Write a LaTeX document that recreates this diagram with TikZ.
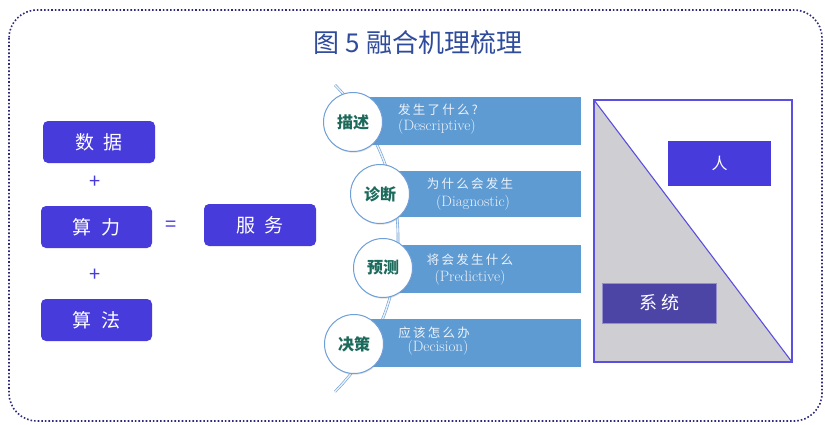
\documentclass[tikz,border=0pt]{standalone}
\usepackage{fontspec}
\newfontfamily\cjk{Noto Sans CJK SC}
\newfontfamily\cjkls[LetterSpace=18]{Noto Sans CJK SC}
\usetikzlibrary{shadows}
\definecolor{frame}{HTML}{2E2B7C}
\definecolor{titleblue}{HTML}{2F4B9C}
\definecolor{boxblue}{HTML}{473BDC}
\definecolor{barblue}{HTML}{5E9BD3}
\definecolor{ringblue}{HTML}{6F9FD8}
\definecolor{teal}{HTML}{1C6A5C}
\definecolor{bartext}{HTML}{EEF3FA}
\definecolor{tri}{HTML}{CFCED3}
\definecolor{sysbox}{HTML}{4C45A6}
\tikzset{
  leftbox/.style={fill=boxblue, rounded corners=5pt, minimum width=111pt, minimum height=42pt, inner sep=0pt, text=white, font=\cjk\fontsize{19}{19}\selectfont},
  opsign/.style={text=boxblue, font=\cjk\fontsize{20}{20}\selectfont, inner sep=0pt},
  bar/.style={fill=barblue, draw=none},
  stage/.style={circle, fill=white, draw=ringblue, line width=1pt, minimum size=59pt, inner sep=0pt, text=teal, font=\cjk\fontsize{16}{16}\selectfont\bfseries, drop shadow={opacity=0.25, shadow xshift=0.6pt, shadow yshift=-1.2pt}},
  cjkline/.style={text=bartext, font=\cjkls\fontsize{12.5}{12.5}\selectfont, inner sep=0pt},
  enline/.style={text=bartext, font=\fontsize{15}{15}\selectfont, inner sep=0pt},
  rolebox/.style={inner sep=0pt, text=white, font=\cjk\fontsize{16}{16}\selectfont}
}
\begin{document}
\begin{tikzpicture}[x=1pt,y=-1pt]
\useasboundingbox (0,0) rectangle (825,424);
% outer frame
\draw[frame, dotted, line width=1.6pt, rounded corners=28pt] (9,10) rectangle (822,421);
% title
\node[text=titleblue, font=\cjk\fontsize{26}{26}\selectfont, inner sep=0pt] (title) at (418,43) {图 5 融合机理梳理};
% left equation
\node[leftbox, minimum width=112pt] (data) at (99,142) {数\hspace{10pt}据};
\node[opsign] (plus1) at (95,182) {+};
\node[leftbox] (power) at (96.5,227) {算\hspace{10pt}力};
\node[opsign] (eq) at (171,226) {=};
\node[leftbox, minimum width=112pt] (service) at (260,225) {服\hspace{10pt}务};
\node[opsign] (plus2) at (95,275) {+};
\node[leftbox] (algo) at (96.5,320) {算\hspace{10pt}法};
% curved spine
\coordinate (spinetop) at (335,85);
\draw[ringblue, line width=0.6pt, double=white!85!ringblue, double distance=1.4pt] (spinetop) arc[start angle=44.7, end angle=-44.7, radius=218pt];
% bars
\fill[bar] (353,97) rectangle (581,145);
\fill[bar] (380,171) rectangle (581,217);
\fill[bar] (383,245) rectangle (581,293);
\fill[bar] (354,319) rectangle (581,367);
% circles
\node[stage] (s1) at (353,122) {描述};
\node[stage] (s2) at (380,194) {诊断};
\node[stage] (s3) at (383,268) {预测};
\node[stage] (s4) at (354,344) {决策};
% bar texts
\node[cjkline] (t1a) at (438,110) {发生了什么?};
\node[enline] (t1b) at (437,127) {(Descriptive)};
\node[cjkline] (t2a) at (470,184) {为什么会发生};
\node[enline] (t2b) at (473,203) {(Diagnostic)};
\node[cjkline] (t3a) at (470,260) {将会发生什么};
\node[enline] (t3b) at (470,278) {(Predictive)};
\node[cjkline] (t4a) at (434,333) {应该怎么办};
\node[enline] (t4b) at (438,348) {(Decision)};
% right panel
\fill[tri] (594,100) -- (792,362) -- (594,362) -- cycle;
\draw[boxblue!90!white, line width=1.1pt] (594,100) -- (792,362);
\draw[boxblue!90!white, line width=1.2pt] (594,100) rectangle (792,362);
\node[rolebox, fill=boxblue, minimum width=103pt, minimum height=45pt] (human) at (719.5,163.5) {人};
\node[rolebox, fill=sysbox, draw=sysbox!60!white, line width=0.6pt, minimum width=114pt, minimum height=40pt, font=\cjk\fontsize{18}{18}\selectfont] (system) at (659,303) {系\hspace{4pt}统};
\end{tikzpicture}
\end{document}
